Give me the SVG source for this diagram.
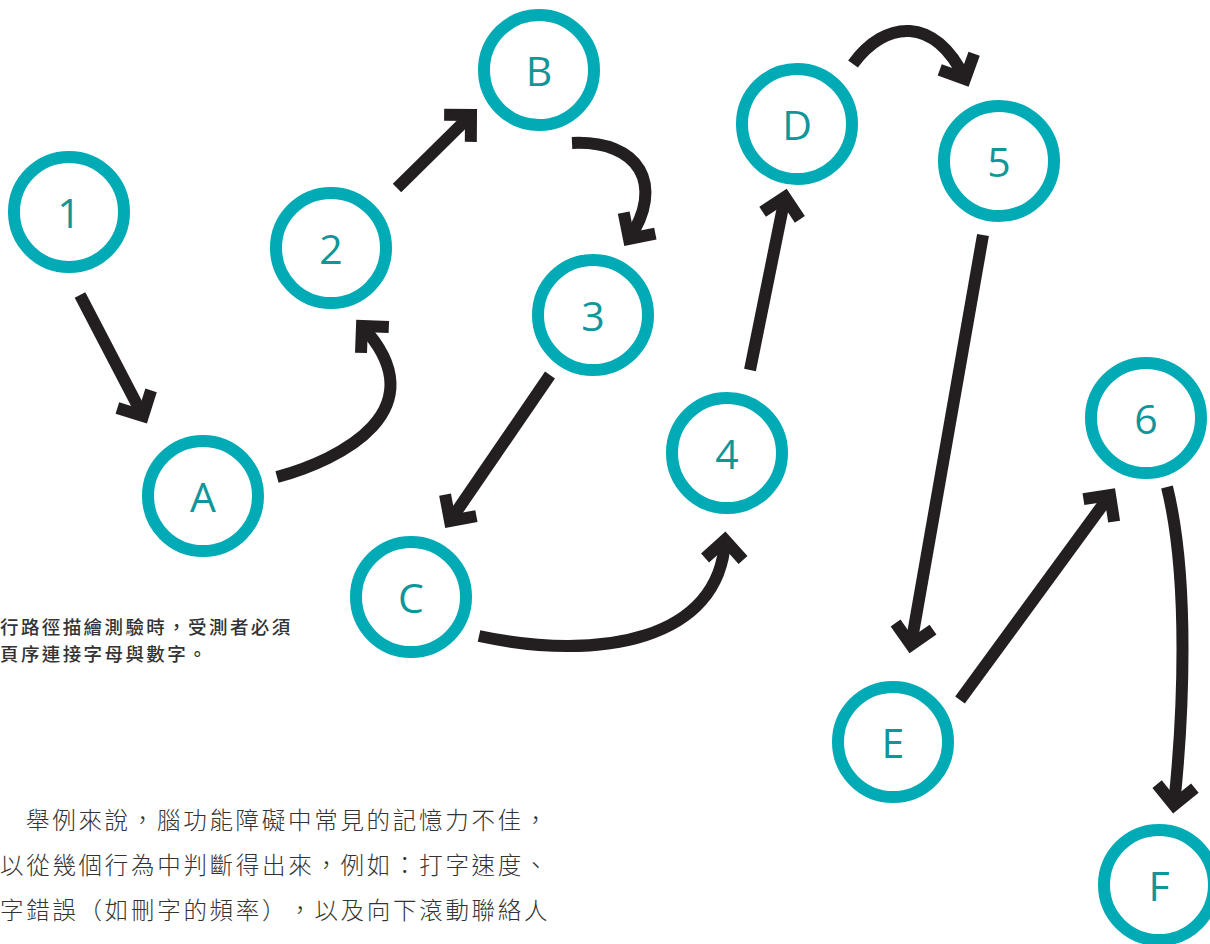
<svg xmlns="http://www.w3.org/2000/svg" width="1210" height="944" viewBox="0 0 1210 944">
<style>
.node circle{fill:none;stroke:#00abb5;stroke-width:12}
.node text{font-family:"Open Sans","Noto Sans",sans-serif;font-weight:400;font-size:41px;fill:#0e9799;text-anchor:middle}
.conn path{fill:none;stroke:#231f20;stroke-width:12;stroke-linecap:butt;marker-end:url(#chev)}
.cap{font-family:"Noto Sans CJK TC","Noto Sans CJK SC",sans-serif;font-size:18.5px;font-weight:500;fill:#333;letter-spacing:2.4px;text-spacing-trim:space-all}
.para{font-family:"Noto Sans CJK TC","Noto Sans CJK SC",sans-serif;font-size:23.5px;font-weight:300;fill:#333;letter-spacing:2.7px;text-spacing-trim:space-all}
</style>
<defs>
<marker id="chev" markerUnits="userSpaceOnUse" viewBox="-40 -40 80 80" markerWidth="80" markerHeight="80" refX="0" refY="0" orient="auto" overflow="visible">
<path d="M -19 -19 L 0 0 L -19 19" fill="none" stroke="#231f20" stroke-width="12" stroke-linejoin="miter" stroke-miterlimit="10"/>
</marker>
</defs>
<rect width="1210" height="944" fill="#fff"/>
<g id="connectors" class="conn">
<path d="M 80 295 L 143 416"/>
<path d="M 277 477 C 340 460, 440 410, 362 326"/>
<path d="M 397 188 L 471 115"/>
<path d="M 572 143 C 640 140, 665 185, 629 239"/>
<path d="M 550 375 L 450 521"/>
<path d="M 479 636 C 600 662, 720 640, 725 540"/>
<path d="M 750 370 L 785 197"/>
<path d="M 853 64 C 885 20, 935 15, 965 79"/>
<path d="M 983 235 L 911 645"/>
<path d="M 960 700 L 1110 495"/>
<path d="M 1167 487 C 1190 580, 1183 720, 1174 805"/>
</g>
<g id="node-1" class="node"><circle cx="69" cy="212" r="55"/><text x="69" y="228">1</text></g>
<g id="node-A" class="node"><circle cx="203" cy="496" r="55"/><text x="203" y="512">A</text></g>
<g id="node-2" class="node"><circle cx="331" cy="248" r="55"/><text x="331" y="264">2</text></g>
<g id="node-B" class="node"><circle cx="539" cy="70" r="55"/><text x="539" y="86">B</text></g>
<g id="node-3" class="node"><circle cx="593" cy="315" r="55"/><text x="593" y="331">3</text></g>
<g id="node-C" class="node"><circle cx="411" cy="597" r="55"/><text x="411" y="613">C</text></g>
<g id="node-4" class="node"><circle cx="727" cy="453" r="55"/><text x="727" y="469">4</text></g>
<g id="node-D" class="node"><circle cx="797" cy="124" r="55"/><text x="797" y="140">D</text></g>
<g id="node-5" class="node"><circle cx="999" cy="161" r="55"/><text x="999" y="177">5</text></g>
<g id="node-E" class="node"><circle cx="893" cy="742" r="55"/><text x="893" y="758">E</text></g>
<g id="node-6" class="node"><circle cx="1146" cy="418" r="55"/><text x="1146" y="434">6</text></g>
<g id="node-F" class="node"><circle cx="1159" cy="885" r="55"/><text x="1159" y="901">F</text></g>
<g id="caption">
<text class="cap" x="0" y="634">行路徑描繪測驗時，受測者必須</text>
<text class="cap" x="0" y="661">頁序連接字母與數字。</text>
</g>
<g id="paragraph">
<text class="para" x="26" y="829">舉例來說，腦功能障礙中常見的記憶力不佳，</text>
<text class="para" x="0" y="874">以從幾個行為中判斷得出來，例如：打字速度、</text>
<text class="para" x="0" y="919">字錯誤（如刪字的頻率），以及向下滾動聯絡人</text>
</g>
</svg>
